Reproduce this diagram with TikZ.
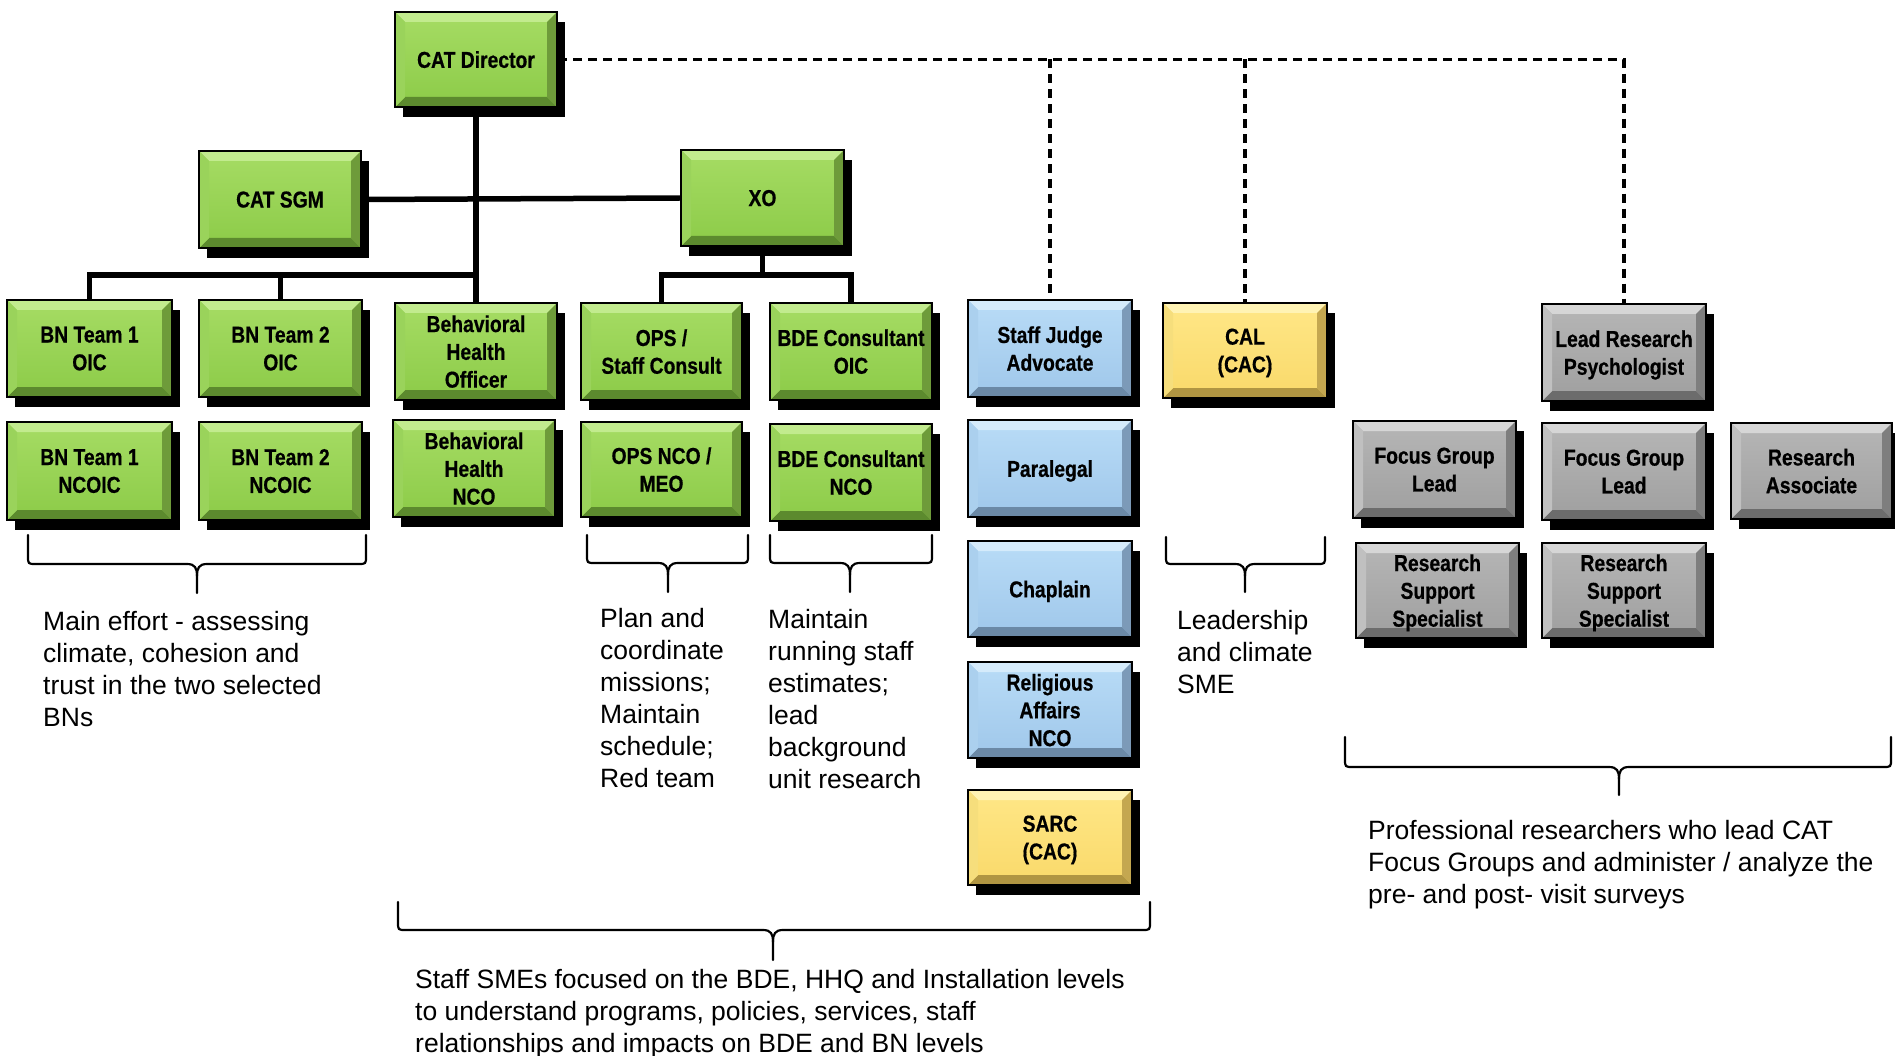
\documentclass[tikz,border=0pt]{standalone}
\usepackage{fontspec}
\setmainfont{Liberation Sans}
\newfontfamily\boxfont{Liberation Sans}[FakeStretch=0.84, BoldFeatures={FakeBold=0.6}]
\usetikzlibrary{shadows}
\definecolor{gFT}{HTML}{A6DC64}\definecolor{gFB}{HTML}{8CCB48}
\definecolor{gBT}{HTML}{C2EB8E}\definecolor{gBL}{HTML}{9AD35B}
\definecolor{gBR}{HTML}{6E9B3A}\definecolor{gBB}{HTML}{5C8A2E}
\definecolor{bFT}{HTML}{B9DCF7}\definecolor{bFB}{HTML}{9FC7EA}
\definecolor{bBT}{HTML}{D5EBFB}\definecolor{bBL}{HTML}{ABD0EE}
\definecolor{bBR}{HTML}{7C9AB8}\definecolor{bBB}{HTML}{6B89A6}
\definecolor{yFT}{HTML}{FFE787}\definecolor{yFB}{HTML}{F9D96A}
\definecolor{yBT}{HTML}{FFF3B4}\definecolor{yBL}{HTML}{F6DE7C}
\definecolor{yBR}{HTML}{C4A750}\definecolor{yBB}{HTML}{B09542}
\definecolor{kFT}{HTML}{B6B6B6}\definecolor{kFB}{HTML}{9F9F9F}
\definecolor{kBT}{HTML}{D6D6D6}\definecolor{kBL}{HTML}{C0C0C0}
\definecolor{kBR}{HTML}{7E7E7E}\definecolor{kBB}{HTML}{6C6C6C}
\newcommand\mkbox[7]{\node[#1, minimum width={(#5)-(#3)}, minimum height={(#6)-(#4)}] (#2) at ({((#3)+(#5))/2},{((#4)+(#6))/2}) {#7};}
\newcommand\mkbrace[6]{\draw[bracestyle] (#1,#4) -- (#1,#5-8) .. controls (#1,#5) .. (#1+8,#5) -- (#3-10,#5) .. controls (#3-2,#5) and (#3,#5+4) .. (#3,#5+12) -- (#3,#6);
 \draw[bracestyle] (#2,#4) -- (#2,#5-8) .. controls (#2,#5) .. (#2-8,#5) -- (#3+10,#5) .. controls (#3+2,#5) and (#3,#5+4) .. (#3,#5+12);}
\begin{document}
\begin{tikzpicture}[x=1pt,y=-1pt,
  bevel/.style n args={4}{path picture={
    \fill[#1] (path picture bounding box.north west) -- (path picture bounding box.north east) -- ([shift={(-10pt,-10pt)}]path picture bounding box.north east) -- ([shift={(10pt,-10pt)}]path picture bounding box.north west) -- cycle;
    \fill[#4] (path picture bounding box.south west) -- (path picture bounding box.south east) -- ([shift={(-10pt,10pt)}]path picture bounding box.south east) -- ([shift={(10pt,10pt)}]path picture bounding box.south west) -- cycle;
    \fill[#2] (path picture bounding box.north west) -- ([shift={(10pt,-10pt)}]path picture bounding box.north west) -- ([shift={(10pt,10pt)}]path picture bounding box.south west) -- (path picture bounding box.south west) -- cycle;
    \fill[#3] (path picture bounding box.north east) -- ([shift={(-10pt,-10pt)}]path picture bounding box.north east) -- ([shift={(-10pt,10pt)}]path picture bounding box.south east) -- (path picture bounding box.south east) -- cycle;
  }},
  bevbox/.style={draw=black, line width=2.5pt, inner sep=0pt, align=center,
    text depth=0pt, font={\boxfont\bfseries\fontsize{23}{27.8}\selectfont},
    execute at begin node={\vspace*{3pt}},
    drop shadow={shadow xshift=8pt, shadow yshift=-10pt, fill=black, opacity=1}},
  greenbox/.style={bevbox, top color=gFT, bottom color=gFB, bevel={gBT}{gBL}{gBR}{gBB}},
  bluebox/.style={bevbox, top color=bFT, bottom color=bFB, bevel={bBT}{bBL}{bBR}{bBB}},
  yellowbox/.style={bevbox, top color=yFT, bottom color=yFB, bevel={yBT}{yBL}{yBR}{yBB}},
  graybox/.style={bevbox, top color=kFT, bottom color=kFB, bevel={kBT}{kBL}{kBR}{kBB}},
  conn/.style={line width=5.5pt, draw=black},
  dashline/.style={line width=3.2pt, draw=black, dash pattern=on 9pt off 6pt},
  bracestyle/.style={line width=2.2pt, draw=black, line cap=round},
  desc/.style={anchor=north west, inner sep=0pt, align=left, font={\fontsize{26.5}{32}\selectfont}}
]
\useasboundingbox (0,0) rectangle (1895,1056);
% boxes
\mkbox{greenbox}{dir}{395}{12}{557}{107}{CAT Director}
\mkbox{greenbox}{sgm}{199}{151}{361}{248}{CAT SGM}
\mkbox{greenbox}{xo}{681}{150}{844}{246}{XO}
\mkbox{greenbox}{bnoa}{7}{300}{172}{397}{BN Team 1\\OIC}
\mkbox{greenbox}{bnob}{199}{300}{362}{397}{BN Team 2\\OIC}
\mkbox{greenbox}{bnna}{7}{422}{172}{520}{BN Team 1\\NCOIC}
\mkbox{greenbox}{bnnb}{199}{422}{362}{520}{BN Team 2\\NCOIC}
\mkbox{greenbox}{bho}{395}{303}{557}{400}{Behavioral\\Health\\Officer}
\mkbox{greenbox}{bhn}{393}{420}{555}{517}{Behavioral\\Health\\NCO}
\mkbox{greenbox}{ops}{581}{303}{742}{400}{OPS /\\Staff Consult}
\mkbox{greenbox}{opsnco}{581}{422}{742}{517}{OPS NCO /\\MEO}
\mkbox{greenbox}{bdeoic}{770}{303}{932}{400}{BDE Consultant\\OIC}
\mkbox{greenbox}{bdenco}{770}{424}{932}{521}{BDE Consultant\\NCO}
\mkbox{bluebox}{sja}{968}{300}{1132}{397}{Staff Judge\\Advocate}
\mkbox{yellowbox}{cal}{1163}{303}{1327}{398}{CAL\\(CAC)}
\mkbox{bluebox}{para}{968}{420}{1132}{517}{Paralegal}
\mkbox{bluebox}{chap}{968}{541}{1132}{637}{Chaplain}
\mkbox{bluebox}{rel}{968}{662}{1132}{758}{Religious\\Affairs\\NCO}
\mkbox{yellowbox}{sarc}{968}{790}{1132}{885}{SARC\\(CAC)}
\mkbox{graybox}{lrp}{1542}{304}{1706}{401}{Lead Research\\Psychologist}
\mkbox{graybox}{fga}{1353}{421}{1516}{518}{Focus Group\\Lead}
\mkbox{graybox}{fgb}{1542}{423}{1706}{520}{Focus Group\\Lead}
\mkbox{graybox}{ra}{1731}{423}{1892}{519}{Research\\Associate}
\mkbox{graybox}{rssa}{1356}{543}{1519}{638}{Research\\Support\\Specialist}
\mkbox{graybox}{rssb}{1542}{543}{1706}{638}{Research\\Support\\Specialist}
% solid connectors
\coordinate (bus) at (476,275);
\coordinate (xbus) at (762.5,275);
\draw[conn] (dir.south) -- (bho.north);
\draw[conn] (sgm.east) -- (xo.west);
\draw[conn] (bnoa.north) |- (bus);
\draw[conn] (bnob.north) -- (bnob.north |- bus);
\draw[conn] (xo.south) -- (xbus);
\draw[conn] (ops.north) |- (xbus) -| (bdeoic.north);
% dashed connectors
\draw[dashline] (dir.east) -- (lrp.north |- dir.east) -- (lrp.north);
\draw[dashline] (sja.north |- dir.east) -- (sja.north);
\draw[dashline] (cal.north |- dir.east) -- (cal.north);
% braces
\mkbrace{28}{366}{197}{535}{564}{593}
\mkbrace{587}{748}{668}{535}{563}{592}
\mkbrace{770}{932}{850}{535}{563}{592}
\mkbrace{1166}{1325}{1245}{537}{564}{592}
\mkbrace{1345}{1891}{1619}{737}{767}{795}
\mkbrace{398}{1150}{773}{902}{930}{960}
% descriptions
\node[desc] (t1) at (43,611) {Main effort - assessing\\climate, cohesion and\\trust in the two selected\\BNs};
\node[desc] (t2) at (600,608) {Plan and\\coordinate\\missions;\\Maintain\\schedule;\\Red team};
\node[desc] (t3) at (768,609) {Maintain\\running staff\\estimates;\\lead\\background\\unit research};
\node[desc] (t4) at (1177,610) {Leadership\\and climate\\SME};
\node[desc] (t5) at (1368,820) {Professional researchers who lead CAT\\Focus Groups and administer / analyze the\\pre- and post- visit surveys};
\node[desc] (t6) at (415,969) {Staff SMEs focused on the BDE, HHQ and Installation levels\\to understand programs, policies, services, staff\\relationships and impacts on BDE and BN levels};
\end{tikzpicture}
\end{document}
